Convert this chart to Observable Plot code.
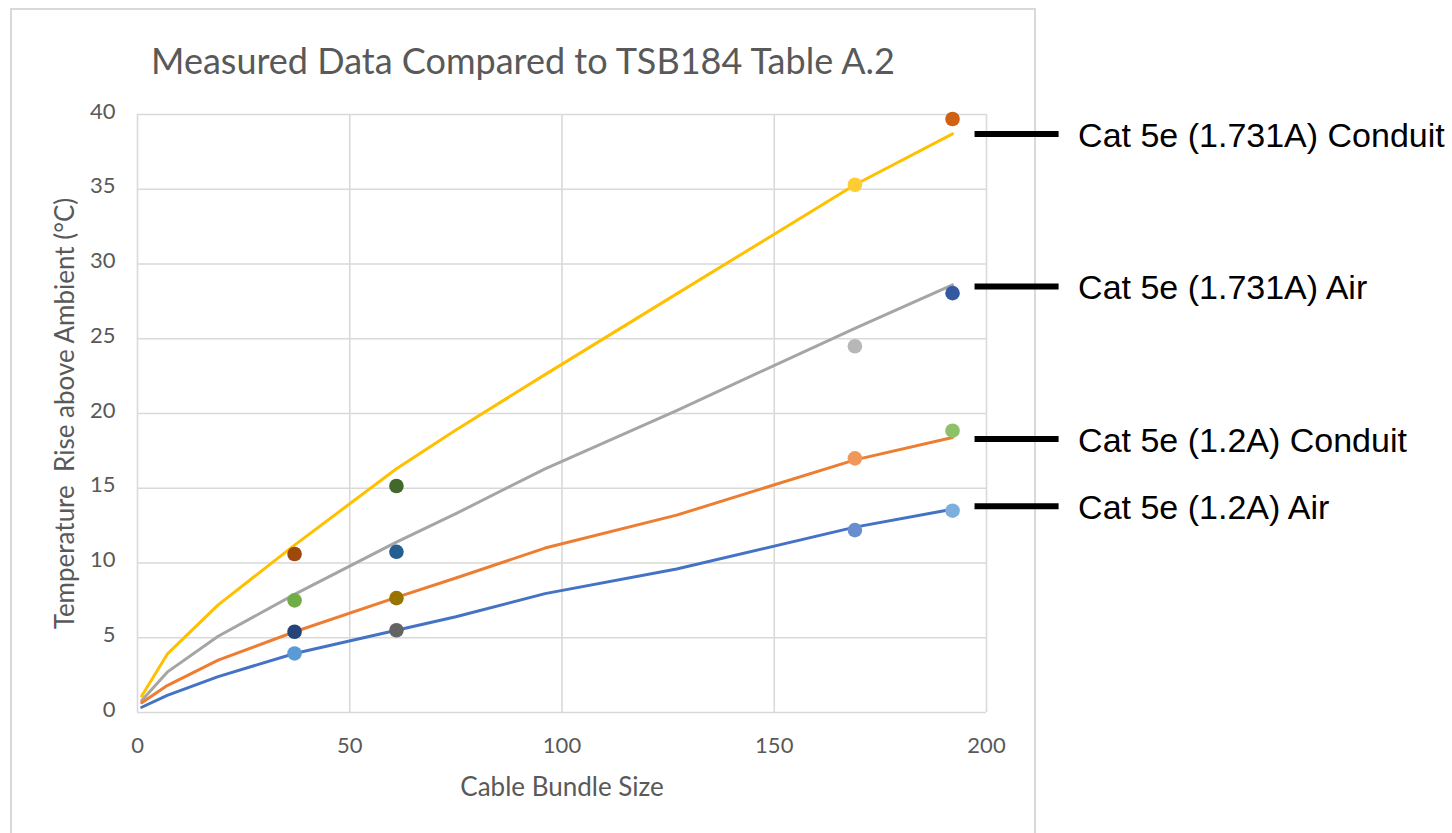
<!DOCTYPE html>
<html>
<head>
<meta charset="utf-8">
<script src="https://cdn.jsdelivr.net/npm/d3@7"></script>
<script src="https://cdn.jsdelivr.net/npm/@observablehq/plot@0.6"></script>
<style>
  body { margin: 0; background: #fff; width: 1452px; height: 833px; overflow: hidden; position: relative; }
  #box { position: absolute; left: 10px; top: 8px; width: 1026px; height: 840px; border: 2px solid #d9d9d9; box-sizing: border-box; }
  #title { position: absolute; left: 10px; width: 1026px; top: 40px; text-align: center; font-family: Lato, sans-serif; font-size: 36px; color: #595959; line-height: 40px; white-space: nowrap; }
  #chart { position: absolute; left: 0; top: 0; }
</style>
</head>
<body>
<div id="box"></div>
<div id="title">Measured Data Compared to TSB184 Table A.2</div>
<div id="chart"></div>
<script>
// TSB184 Table A.2 curves (bundle size vs temperature rise)
const tableX = [1, 7, 19, 37, 61, 75, 96, 127, 169, 192];
const conduit1731 = [1.1, 3.9, 7.2, 11.2, 16.3, 18.9, 22.6, 28.0, 35.3, 38.7];
const air1731     = [0.8, 2.7, 5.1, 7.9, 11.4, 13.3, 16.3, 20.2, 25.7, 28.6];
const conduit12   = [0.65, 1.8, 3.5, 5.4, 7.7, 9.0, 11.0, 13.2, 16.9, 18.4];
const air12       = [0.35, 1.15, 2.4, 3.95, 5.5, 6.4, 7.95, 9.6, 12.4, 13.6];
const lineColors = ["#FFC000", "#A5A5A5", "#ED7D31", "#4472C4"];

// Measured data points
const dotX = [37, 37, 37, 37, 61, 61, 61, 61, 169, 169, 169, 169, 192, 192, 192, 192];
const dotY = [3.95, 7.5, 5.4, 10.6, 5.5, 7.65, 10.75, 15.15, 12.2, 17.0, 24.5, 35.3, 13.5, 18.85, 28.05, 39.7];
const dotColors = ["#5B9BD5", "#70AD47", "#264478", "#9E480E", "#636363", "#997300", "#255E91", "#43682B",
                   "#698ED0", "#F1975A", "#B7B7B7", "#FFCD33", "#7CAFDD", "#8CC168", "#335AA1", "#D26012"];

// Callout labels
const calloutLabels = ["Cat 5e (1.731A) Conduit", "Cat 5e (1.731A) Air", "Cat 5e (1.2A) Conduit", "Cat 5e (1.2A) Air"];
const calloutY = [38.7, 28.5, 18.3, 13.8];
const calloutX = [197.3, 217.1];

const xTicks = [0, 50, 100, 150, 200];
const yTicks = [0, 5, 10, 15, 20, 25, 30, 35, 40];
const xLabel = "Cable Bundle Size";
const yLabel = "Temperature  Rise above Ambient (°C)";

const series = [conduit1731, air1731, conduit12, air12];
const lineData = series.map((vals) => tableX.map((x, i) => ({x, y: vals[i]})));
const dots = dotX.map((x, i) => ({x, y: dotY[i], c: dotColors[i]}));
const callouts = calloutLabels.map((t, i) => ({t, y: calloutY[i]}));

const textColor = "#595959";
const chart = Plot.plot({
  width: 1452,
  height: 833,
  marginLeft: 137,
  marginRight: 466,
  marginTop: 114,
  marginBottom: 121,
  style: {fontFamily: "Lato, sans-serif", background: "transparent", overflow: "visible"},
  x: {domain: [0, 200]},
  y: {domain: [0, 40]},
  color: {type: "identity"},
  marks: [
    Plot.gridX(xTicks, {stroke: "#d9d9d9", strokeOpacity: 1, strokeWidth: 1.6}),
    Plot.gridY(yTicks, {stroke: "#d9d9d9", strokeOpacity: 1, strokeWidth: 1.6}),
    Plot.axisX({ticks: xTicks, tickSize: 0, tickPadding: 25, fontSize: 22, color: textColor, label: null}),
    Plot.axisY({ticks: yTicks, tickSize: 0, tickPadding: 22, fontSize: 22, color: textColor, label: null, dy: -3}),
    ...lineData.map((d, i) => Plot.line(d, {x: "x", y: "y", stroke: lineColors[i], strokeWidth: 3})),
    Plot.dot(dots, {x: "x", y: "y", fill: "c", r: 7.3}),
    Plot.ruleY(callouts, {y: "y", x1: calloutX[0], x2: calloutX[1], stroke: "#000", strokeWidth: 6}),
    Plot.text(callouts, {x: calloutX[1], y: "y", text: "t", textAnchor: "start", dx: 19, dy: 2, fontSize: 34, fill: "#000", fontFamily: "'Liberation Sans', Arial, sans-serif"}),
    Plot.text([xLabel], {frameAnchor: "bottom", dy: 83, fontSize: 26, fill: textColor}),
    Plot.text([yLabel], {frameAnchor: "left", textAnchor: "middle", rotate: -90, dx: -72, fontSize: 26, fill: textColor})
  ]
});
document.getElementById("chart").appendChild(chart);
</script>
</body>
</html>
